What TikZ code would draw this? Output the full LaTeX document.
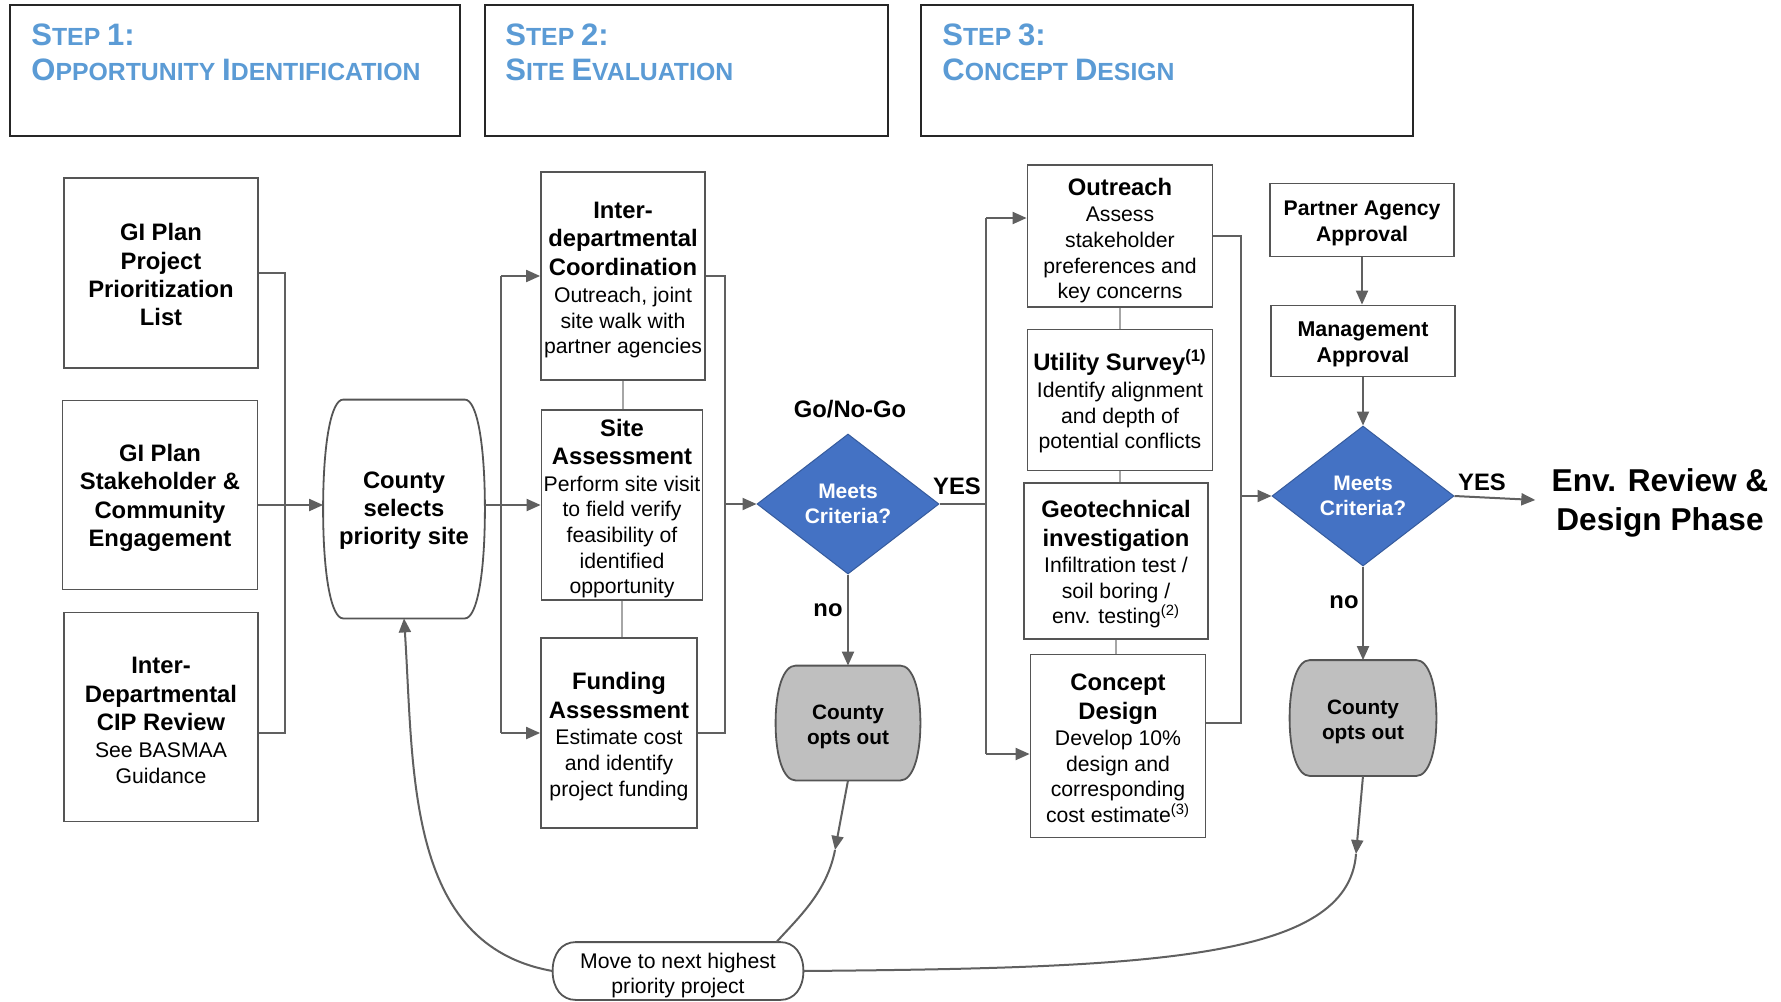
\documentclass[tikz,border=0pt]{standalone}
\usepackage{fontspec}
\setmainfont{Liberation Sans}
\usetikzlibrary{arrows.meta,shapes.geometric,calc,backgrounds}

\definecolor{linec}{HTML}{606060}
\definecolor{boxc}{HTML}{555555}
\definecolor{thinc}{HTML}{A6A6A6}
\definecolor{stepblue}{HTML}{5B9BD5}
\definecolor{diamblue}{HTML}{4472C4}
\definecolor{optgray}{HTML}{BFBFBF}

% type sizes
\newcommand\hdfont{\fontsize{11.9}{12.8}\selectfont\bfseries}
\newcommand\bdfont{\fontsize{10.6}{12.8}\selectfont}
\newcommand\capL{\fontsize{15.5}{18}\selectfont\bfseries}
\newcommand\capS{\fontsize{12.4}{18}\selectfont\bfseries}
% invisible strut that lowers a centred text block a little
\newcommand\lowr[1]{\rule{0pt}{#1}}

% outline with flat top and bottom and bulging sides, drawn round a node
\newcommand\capsule[3]{%
  \draw[#3]
    ($(#1.north west)+(#2,0)$) -- ($(#1.north east)+(-#2,0)$)
    .. controls ($(#1.north east)+(-0.4*#2,0)$) and ($(#1.east)!0.6!(#1.north east)$) .. (#1.east)
    .. controls ($(#1.east)!0.6!(#1.south east)$) and ($(#1.south east)+(-0.4*#2,0)$) .. ($(#1.south east)+(-#2,0)$)
    -- ($(#1.south west)+(#2,0)$)
    .. controls ($(#1.south west)+(0.4*#2,0)$) and ($(#1.west)!0.6!(#1.south west)$) .. (#1.west)
    .. controls ($(#1.west)!0.6!(#1.north west)$) and ($(#1.north west)+(0.4*#2,0)$) .. ($(#1.north west)+(#2,0)$)
    -- cycle;}

\tikzset{
  box/.style={draw=boxc, line width=0.9pt, inner sep=0pt, align=center, font=\bdfont},
  pill/.style={inner sep=0pt, align=center},
  pillline/.style={draw=boxc, line width=0.9pt, fill=white},
  optline/.style={draw=boxc, line width=0.9pt, fill=optgray},
  conn/.style={draw=linec, line width=1pt},
  arr/.style={conn, -{Triangle[length=7pt,width=6pt]}},
  thinlink/.style={draw=thinc, line width=0.6pt},
  decision/.style={diamond, aspect=1.3, draw=diamblue!80!black, line width=0.5pt,
    fill=diamblue, text=white, inner sep=0pt, align=center,
    minimum width=91pt, minimum height=70pt,
    font=\fontsize{10.5}{12.5}\selectfont\bfseries},
  lab/.style={font=\fontsize{11.9}{14}\selectfont\bfseries, inner sep=0pt},
  stepbox/.style={draw=black!85, line width=1pt},
  steptext/.style={text=stepblue, inner sep=0pt, anchor=base west},
}

\begin{document}
\begin{tikzpicture}[x=0.5pt,y=-0.5pt]
\useasboundingbox (0,0) rectangle (1781,1001);
\begin{pgfonlayer}{background}
  \fill[white] (0,0) rectangle (1781,1001);
\end{pgfonlayer}

% ---- step headers
\node[stepbox, minimum width=225pt, minimum height=65.5pt] (s1) at (235,70.5) {};
\node[stepbox, minimum width=201.5pt, minimum height=65.5pt] (s2) at (686.5,70.5) {};
\node[stepbox, minimum width=246pt, minimum height=65.5pt] (s3) at (1167,70.5) {};
\node[steptext] (s1a) at (31,45) {\capL S\capS TEP \capL 1:};
\node[steptext] (s1b) at (31,80) {\capL O\capS PPORTUNITY \capL I\capS DENTIFICATION};
\node[steptext] (s2a) at (505,45) {\capL S\capS TEP \capL 2:};
\node[steptext] (s2b) at (505,80) {\capL S\capS ITE \capL E\capS VALUATION};
\node[steptext] (s3a) at (942,45) {\capL S\capS TEP \capL 3:};
\node[steptext] (s3b) at (942,80) {\capL C\capS ONCEPT \capL D\capS ESIGN};

% ---- step 1: sources
\node[box, minimum width=97pt, minimum height=95pt] (b1) at (161,273)
  {\hdfont\lowr{10.5pt}GI Plan\\[1.4pt]\hdfont Project\\[1.4pt]\hdfont Prioritization\\[1.4pt]\hdfont List};
\node[box, minimum width=97.5pt, minimum height=94.5pt] (b2) at (160,495)
  {\hdfont\lowr{11.5pt}GI Plan\\[1.4pt]\hdfont Stakeholder \&\\[1.4pt]\hdfont Community\\[1.4pt]\hdfont Engagement};
\node[box, minimum width=97pt, minimum height=104.5pt] (b3) at (161,717)
  {\hdfont\lowr{11.5pt}Inter-\\[1.4pt]\hdfont Departmental\\[1.4pt]\hdfont CIP Review\\[0.6pt]\bdfont See BASMAA\\\bdfont Guidance};

\node[pill, minimum width=80.5pt, minimum height=109pt, font=\fontsize{11.9}{13.9}\selectfont\bfseries] (cs) at (404,509)
  {\lowr{10pt}County\\selects\\priority site};

% ---- step 2: evaluation
\node[box, minimum width=82pt, minimum height=104pt] (ic) at (623,276)
  {\hdfont\lowr{12.2pt}Inter-\\[1.4pt]\hdfont departmental\\[1.4pt]\hdfont Coordination\\[0.8pt]\bdfont Outreach, joint\\\bdfont site walk with\\\bdfont partner agencies};
\node[box, minimum width=80.5pt, minimum height=95pt] (sa) at (622,505)
  {\hdfont\lowr{12pt}Site\\[1.4pt]\hdfont Assessment\\[0.6pt]\bdfont Perform site visit\\\bdfont to field verify\\\bdfont feasibility of\\\bdfont identified\\\bdfont opportunity};
\node[box, minimum width=78pt, minimum height=95pt] (fa) at (619,733)
  {\hdfont\lowr{12pt}Funding\\[1.4pt]\hdfont Assessment\\[0.6pt]\bdfont Estimate cost\\\bdfont and identify\\\bdfont project funding};

\node[decision] (d1) at (848,504) {Meets\\Criteria?};
\node[lab] (gng) at (850,409) {Go/No-Go};
\node[lab] (yes1) at (957,486) {YES};
\node[lab] (no1) at (828,610) {no};
\node[pill, minimum width=72pt, minimum height=57pt, font=\fontsize{10.4}{12.5}\selectfont\bfseries] (co1) at (848,723)
  {\lowr{10.8pt}County\\opts out};

% ---- step 3: concept design
\node[box, minimum width=92.5pt, minimum height=71pt] (out) at (1120,236)
  {\hdfont\lowr{13.2pt}Outreach\\[0.4pt]\bdfont Assess\\\bdfont stakeholder\\\bdfont preferences and\\\bdfont key concerns};
\node[box, minimum width=92.5pt, minimum height=70.5pt] (ut) at (1120,400)
  {\hdfont\lowr{11.9pt}Utility Survey\textsuperscript{(1)}\\[0.6pt]\bdfont Identify alignment\\\bdfont and depth of\\\bdfont potential conflicts};
\node[box, minimum width=92pt, minimum height=78pt] (geo) at (1116,561)
  {\hdfont\lowr{12pt}Geotechnical\\[1.4pt]\hdfont investigation\\[0.4pt]\bdfont Infiltration test /\\\bdfont soil boring /\\\bdfont env. testing\textsuperscript{(2)}};
\node[box, minimum width=87.5pt, minimum height=91.5pt] (cd) at (1118,746)
  {\hdfont\lowr{10.5pt}Concept\\[1.4pt]\hdfont Design\\[0.4pt]\bdfont Develop 10\%\\\bdfont design and\\\bdfont corresponding\\\bdfont cost estimate\textsuperscript{(3)}};

\node[box, minimum width=92pt, minimum height=36.5pt, font=\fontsize{10.6}{13}\selectfont\bfseries] (pa) at (1362,220)
  {\lowr{11pt}Partner Agency\\Approval};
\node[box, minimum width=92pt, minimum height=35.5pt, font=\fontsize{10.7}{13}\selectfont\bfseries] (ma) at (1363,341)
  {\lowr{11pt}Management\\Approval};
\node[decision] (d2) at (1363,496) {Meets\\Criteria?};
\node[lab] (yes2) at (1482,482) {YES};
\node[lab] (no2) at (1344,602) {no};
\node[pill, minimum width=73pt, minimum height=57.5pt, font=\fontsize{10.4}{12.5}\selectfont\bfseries] (co2) at (1363,718)
  {\lowr{10.8pt}County\\opts out};
\node[align=center, inner xsep=8pt, inner ysep=0pt, font=\fontsize{15.8}{19.3}\selectfont\bfseries] (env) at (1660,500)
  {\lowr{14.6pt}Env. Review \&\\Design Phase};

\node[pill, minimum width=125pt, minimum height=28.5pt, font=\fontsize{10.6}{12.5}\selectfont] (move) at (678,971)
  {\lowr{12pt}Move to next highest\\priority project};

% ---- outlines of the rounded terminals
\begin{pgfonlayer}{background}
  \capsule{cs}{20}{pillline}
  \capsule{co1}{20}{optline}
  \capsule{co2}{20}{optline}
  \capsule{move}{23}{pillline}
\end{pgfonlayer}

% ---- step 1 connectors
\coordinate (jl1) at (285,505);
\coordinate (b3j) at (285,733);
\draw[conn] (b1.east) -| (b3j) -- (b3j -| b3.east);
\draw[arr] (jl1 -| b2.east) -- (jl1 -| cs.west);

% ---- step 2 connectors
\coordinate (jl2) at (501,505);
\draw[arr] (jl2 -| cs.east) -- (jl2 -| sa.west);
\draw[conn] (jl2 |- ic.west) -- (jl2 |- fa.west);
\draw[arr] (jl2 |- ic.west) -- (ic.west);
\draw[arr] (jl2 |- fa.west) -- (fa.west);
\draw[thinlink] (ic.south) -- (ic.south |- sa.north);
\draw[thinlink] (sa.south) -- (sa.south |- fa.north);
\coordinate (jr2) at (725,504);
\draw[conn] (ic.east) -| (jr2 |- fa.east) -- (fa.east);
\draw[arr] (jr2) -- (d1.west);
\draw[arr] (d1.south) -- (co1.north);

% ---- yes branch into step 3
\coordinate (yo) at (986,218);
\coordinate (yc) at (986,754);
\draw[conn] (d1.east) -- (d1.east -| yo);
\draw[conn] (yo) -- (yc);
\draw[arr] (yo) -- (yo -| out.west);
\draw[arr] (yc) -- (yc -| cd.west);
\draw[thinlink] (out.south) -- (out.south |- ut.north);
\draw[thinlink] (ut.south) -- (ut.south |- geo.north);
\draw[thinlink] (geo.south) -- (geo.south |- cd.north);
\coordinate (jr3) at (1241,496);
\coordinate (cdj) at (1241,723);
\draw[conn] (out.east) -| (cdj) -- (cdj -| cd.east);
\draw[arr] (jr3) -- (d2.west);

% ---- approvals and final decision
\draw[arr] (pa.south) -- (pa.south |- ma.north);
\draw[arr] (ma.south) -- (d2.north);
\draw[arr] (d2.east) -- (env.west);
\draw[arr] (d2.south) -- (co2.north);

% ---- opt-out loops back to the site selection
\coordinate (m1) at (835,850);
\draw[arr] (co1.south) -- (m1);
\draw[conn] (m1) .. controls (827,892) and (798,918) .. ($(move.north east)+(-27,0)$);
\coordinate (m2) at (1356,854);
\draw[arr] (co2.south) -- (m2);
\draw[conn] (m2) .. controls (1348,960) and (1150,968) .. (move.east);
\draw[arr] (move.west) .. controls (405,945) and (414,770) .. (cs.south);
\end{tikzpicture}
\end{document}
